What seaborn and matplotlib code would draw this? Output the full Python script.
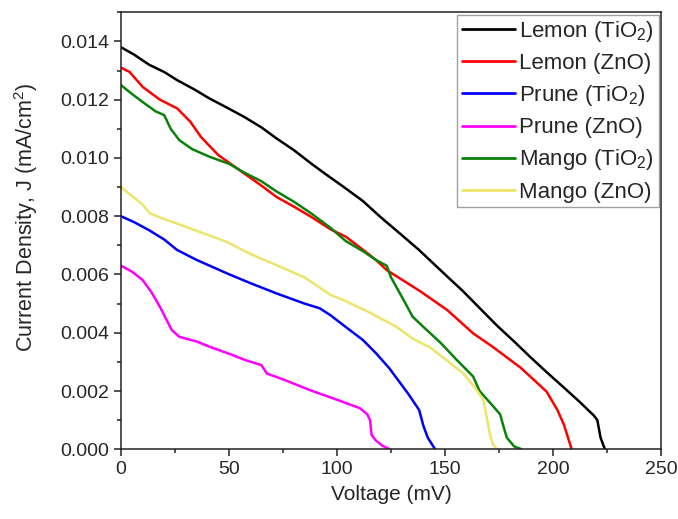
import pandas as pd
import seaborn as sns
import matplotlib
matplotlib.use('Agg')
import matplotlib.pyplot as plt
from matplotlib.ticker import MultipleLocator

lemon_tio2_v = [0, 6, 13, 20, 26, 34, 41, 49, 57, 65, 72, 80, 88, 95, 103, 112, 120, 130, 138, 150, 158,
                166, 174, 182, 189, 197, 205, 212, 219, 220.5, 222, 224]
lemon_tio2_j = [0.0138, 0.01355, 0.0132, 0.01295, 0.01267, 0.01235, 0.01204, 0.01173, 0.01141, 0.01105,
                0.01067, 0.01027, 0.00981, 0.00943, 0.00901, 0.00852, 0.00798, 0.00735, 0.00684, 0.0060,
                0.00545, 0.00485, 0.00425, 0.0037, 0.0032, 0.00265, 0.00212, 0.00165, 0.00115, 0.0010,
                0.0004, 0.0]

lemon_zno_v = [0, 4, 10, 18, 26, 32, 37, 45, 57, 65, 72, 80, 88, 97, 104, 112, 118, 123, 138, 151, 163,
               172, 185, 197, 202, 205, 206.5, 208.6]
lemon_zno_j = [0.0131, 0.01295, 0.01244, 0.0120, 0.0117, 0.01125, 0.01072, 0.0101, 0.00947, 0.00905,
               0.00866, 0.00833, 0.00798, 0.00755, 0.0073, 0.00685, 0.0065, 0.00615, 0.00545, 0.00478,
               0.00398, 0.00352, 0.0028, 0.00198, 0.00135, 0.00085, 0.0005, 0.0]

prune_tio2_v = [0, 6, 13, 20, 26, 35, 49, 60, 72, 85, 92, 97, 104, 112, 118, 124, 128, 133, 138, 140,
                142, 145.4]
prune_tio2_j = [0.0080, 0.0078, 0.00752, 0.0072, 0.00684, 0.0065, 0.00604, 0.0057, 0.00535, 0.0050,
                0.00484, 0.0046, 0.0042, 0.00375, 0.0033, 0.0028, 0.0024, 0.0019, 0.00135, 0.0008,
                0.0004, 0.0]

prune_zno_v = [0, 5, 10, 14, 18, 23.5, 27, 35, 41, 50, 58, 65, 67.5, 75, 87.5, 100, 110.6, 114, 115.3,
               116, 118, 121, 124.5]
prune_zno_j = [0.0063, 0.0061, 0.00581, 0.0054, 0.00489, 0.00409, 0.00386, 0.0037, 0.00352, 0.00328,
               0.00305, 0.00289, 0.0026, 0.0024, 0.00203, 0.0017, 0.00141, 0.0012, 0.0010, 0.00049,
               0.0003, 0.00012, 0.0]

mango_tio2_v = [0, 5, 10, 16, 20, 23, 27, 33, 41, 50, 57, 65, 72, 80, 88, 97, 104, 112, 118, 123, 125,
                128, 131, 135, 140, 148, 155, 163, 166, 172, 175.5, 177, 178.6, 182, 185.5]
mango_tio2_j = [0.0125, 0.0122, 0.01192, 0.0116, 0.01147, 0.0110, 0.01061, 0.0103, 0.01004, 0.0098,
                0.0095, 0.0092, 0.00885, 0.0085, 0.0081, 0.0076, 0.00715, 0.0068, 0.0065, 0.0063,
                0.0059, 0.0055, 0.0051, 0.00455, 0.0042, 0.00365, 0.0031, 0.0025, 0.002, 0.0015,
                0.0012, 0.0008, 0.0004, 0.0001, 0.0]

mango_zno_v = [0, 5, 10, 13.4, 20, 25.8, 35, 48.9, 60, 72, 85, 97, 103, 115, 127.6, 135, 143, 150,
               158.5, 164, 167.7, 169.3, 170.8, 172, 174]
mango_zno_j = [0.0090, 0.0087, 0.0084, 0.0081, 0.0079, 0.00775, 0.0075, 0.00712, 0.0067, 0.00632,
               0.0059, 0.0053, 0.00512, 0.0047, 0.0042, 0.0038, 0.0035, 0.0031, 0.0026, 0.0021,
               0.0017, 0.0011, 0.0005, 0.0002, 0.0]

labels = ['Lemon (TiO$_2$)', 'Lemon (ZnO)', 'Prune (TiO$_2$)', 'Prune (ZnO)',
          'Mango (TiO$_2$)', 'Mango (ZnO)']
colors = ['#000000', '#ff0000', '#0000ff', '#ff00ff', '#0a820a', '#ede46a']
series = [(lemon_tio2_v, lemon_tio2_j), (lemon_zno_v, lemon_zno_j), (prune_tio2_v, prune_tio2_j),
          (prune_zno_v, prune_zno_j), (mango_tio2_v, mango_tio2_j), (mango_zno_v, mango_zno_j)]

frames = []
for lab, (v, j) in zip(labels, series):
    frames.append(pd.DataFrame({'Voltage': v, 'J': j, 'Sample': lab}))
df = pd.concat(frames, ignore_index=True)

sns.set_style('ticks')
plt.rcParams['font.family'] = ['Liberation Sans', 'DejaVu Sans']
plt.rcParams['mathtext.fontset'] = 'custom'
plt.rcParams['mathtext.rm'] = 'Liberation Sans'
plt.rcParams['mathtext.it'] = 'Liberation Sans:italic'

fig = plt.figure(figsize=(6.78, 5.19), dpi=100)
ax = fig.add_axes([0.1785, 0.1343, 0.7965, 0.842])

sns.lineplot(data=df, x='Voltage', y='J', hue='Sample', palette=dict(zip(labels, colors)),
             hue_order=labels, sort=False, estimator=None, linewidth=1.8, ax=ax)

ax.set_xlim(0, 250)
ax.set_ylim(0, 0.015)
ax.xaxis.set_major_locator(MultipleLocator(50))
ax.xaxis.set_minor_locator(MultipleLocator(25))
ax.yaxis.set_major_locator(MultipleLocator(0.002))
ax.yaxis.set_minor_locator(MultipleLocator(0.001))
ax.yaxis.set_major_formatter(matplotlib.ticker.FormatStrFormatter('%.3f'))
ax.tick_params(which='major', direction='out', length=5, width=1.1, labelsize=14, color='#222222')
ax.tick_params(which='minor', direction='out', length=3, width=1.1, color='#222222')
for s in ax.spines.values():
    s.set_linewidth(1.1)
    s.set_color('#222222')

ax.set_xlabel('Voltage (mV)', fontsize=15, labelpad=5)
ax.set_ylabel('Current Density, J (mA/cm$^2$)', fontsize=15.5)
ax.yaxis.set_label_coords(-0.15, 0.53)

leg = ax.legend(loc='upper right', fontsize=16, frameon=True, fancybox=False, handlelength=2.4,
                handletextpad=0.2, labelspacing=0.41, borderpad=0.2, borderaxespad=0.1)
leg.get_frame().set_edgecolor('#888888')
leg.get_frame().set_linewidth(1.0)
for line in leg.get_lines():
    line.set_linewidth(2.0)

fig.savefig('out.png', dpi=100)
